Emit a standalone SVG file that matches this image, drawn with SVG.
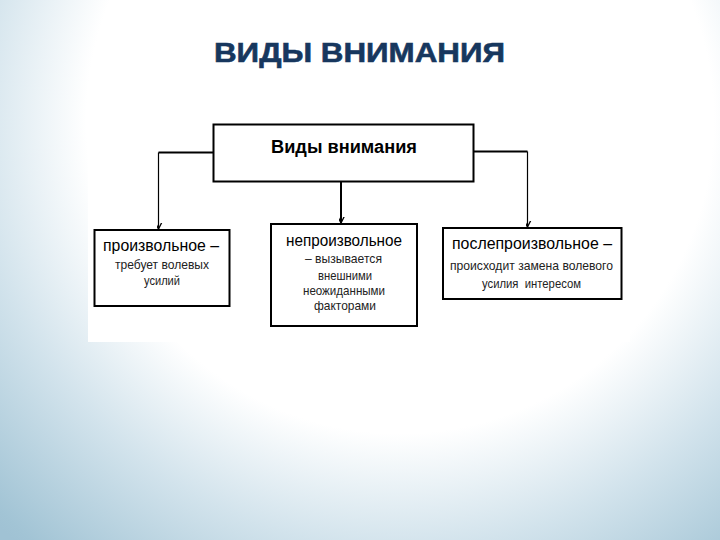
<svg xmlns="http://www.w3.org/2000/svg" width="720" height="540" viewBox="0 0 720 540">
<defs>
<radialGradient id="bg" gradientUnits="userSpaceOnUse" cx="400" cy="120" r="570">
<stop offset="0" stop-color="#ffffff"/>
<stop offset="0.55" stop-color="#ffffff"/>
<stop offset="0.75" stop-color="#d2e3ec"/>
<stop offset="0.98" stop-color="#a2c4d5"/>
<stop offset="1" stop-color="#a0c2d4"/>
</radialGradient>
<marker id="arr" markerUnits="userSpaceOnUse" markerWidth="12" markerHeight="12" viewBox="-6 -10 12 12" refX="0" refY="0" orient="auto-start-reverse">
<path d="M-4,-8 L0,0 L4,-8" fill="none" stroke="#000" stroke-width="1.3" transform="rotate(-90)"/>
</marker>
<style>
.box{fill:#fff;stroke:#000;stroke-width:2}
.t{font-family:"Liberation Sans",Arial,sans-serif;fill:#000;text-anchor:middle}
.h{font-size:16px}
.s{font-size:13px;fill:#222}
.c{fill:none;stroke:#000}
</style>
</defs>
<rect x="0" y="0" width="720" height="540" fill="url(#bg)"/>
<rect x="88" y="108" width="542" height="234" fill="#fff"/>
<text x="359.5" y="62" font-family="'Liberation Sans',Arial,sans-serif" font-weight="bold" font-size="28" fill="#17375e" stroke="#17375e" stroke-width="0.6" text-anchor="middle" textLength="291" lengthAdjust="spacingAndGlyphs">ВИДЫ ВНИМАНИЯ</text>
<g id="connectors">
<path class="c" stroke-width="2" d="M213,152.5 H158.5"/>
<path class="c" stroke-width="1.2" d="M158.5,152.5 V229" marker-end="url(#arr)"/>
<path class="c" stroke-width="2" d="M473,151.5 H527.5"/>
<path class="c" stroke-width="1.2" d="M527.5,151.5 V227" marker-end="url(#arr)"/>
<path class="c" stroke-width="2" d="M341,181 V223" marker-end="url(#arr)"/>
</g>
<g id="root">
<rect class="box" x="213.5" y="124.5" width="260" height="57"/>
<text class="t" x="344" y="153" font-size="18" font-weight="bold" textLength="146" lengthAdjust="spacingAndGlyphs">Виды внимания</text>
</g>
<g id="voluntary">
<rect class="box" x="94.5" y="230" width="135" height="76"/>
<text class="t h" x="161" y="251" textLength="116" lengthAdjust="spacingAndGlyphs">произвольное –</text>
<text class="t s" x="162" y="269" textLength="94" lengthAdjust="spacingAndGlyphs">требует волевых</text>
<text class="t s" x="162" y="285" textLength="36" lengthAdjust="spacingAndGlyphs">усилий</text>
</g>
<g id="involuntary">
<rect class="box" x="271" y="224" width="146" height="102" stroke-width="1.5"/>
<text class="t h" x="344" y="246" textLength="116" lengthAdjust="spacingAndGlyphs">непроизвольное</text>
<text class="t s" x="343.5" y="263" textLength="77" lengthAdjust="spacingAndGlyphs">– вызывается</text>
<text class="t s" x="345" y="280" textLength="54" lengthAdjust="spacingAndGlyphs">внешними</text>
<text class="t s" x="344" y="295" textLength="82" lengthAdjust="spacingAndGlyphs">неожиданными</text>
<text class="t s" x="345" y="310" textLength="62" lengthAdjust="spacingAndGlyphs">факторами</text>
</g>
<g id="postvoluntary">
<rect class="box" x="443" y="228" width="178.5" height="71"/>
<text class="t h" x="532" y="249" textLength="160" lengthAdjust="spacingAndGlyphs">послепроизвольное –</text>
<text class="t s" x="531.5" y="270" textLength="163" lengthAdjust="spacingAndGlyphs">происходит замена волевого</text>
<text class="t s" x="531.5" y="288" textLength="99" lengthAdjust="spacingAndGlyphs" xml:space="preserve">усилия  интересом</text>
</g>
</svg>
